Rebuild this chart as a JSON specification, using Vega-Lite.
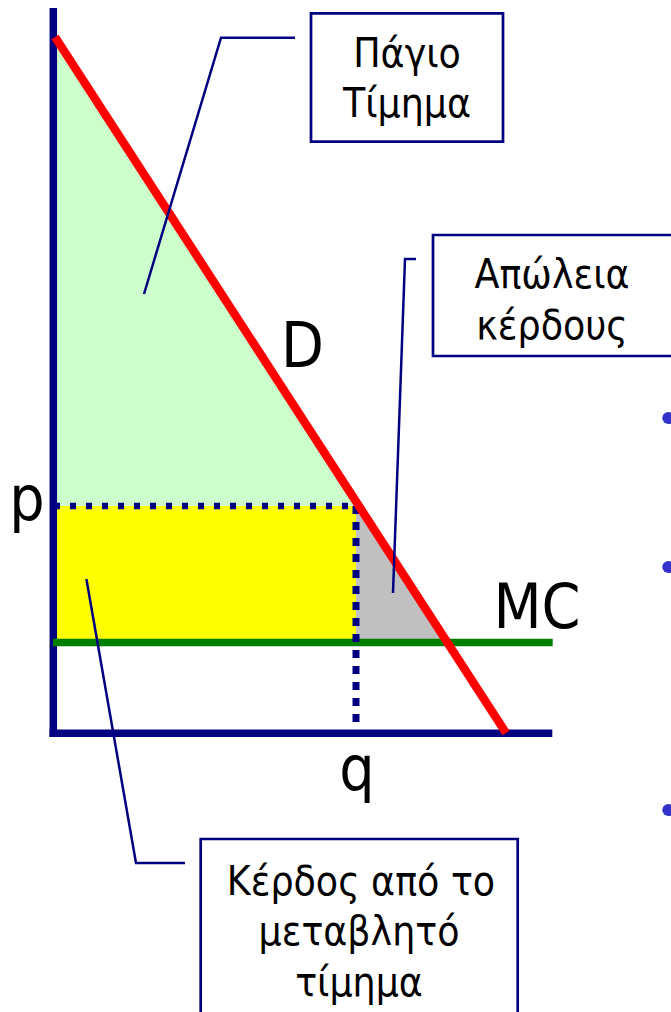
{
  "$schema": "https://vega.github.io/schema/vega-lite/v6.json",
  "width": 671,
  "height": 1012,
  "autosize": {"type": "none"},
  "padding": 0,
  "background": "white",
  "config": {
    "view": {"stroke": null},
    "text": {"font": "DejaVu Sans Condensed, Liberation Sans, sans-serif"}
  },
  "datasets": {
    "regions": [
      {"region": "fixed fee", "q": 53, "top": 978, "bottom": 506},
      {"region": "fixed fee", "q": 358, "top": 507.4, "bottom": 506},
      {"region": "variable profit", "q": 53, "top": 506, "bottom": 369.5},
      {"region": "variable profit", "q": 356, "top": 506, "bottom": 369.5},
      {"region": "lost profit", "q": 356, "top": 508, "bottom": 369.5},
      {"region": "lost profit", "q": 447, "top": 370, "bottom": 369.5}
    ],
    "axes": [
      {"x": 53.3, "x2": 53.3, "y": 1004, "y2": 275},
      {"x": 49.5, "x2": 552.3, "y": 278.7, "y2": 278.7}
    ],
    "mc": [{"x": 53, "x2": 552.7, "y": 369.5, "y2": 369.5}],
    "pline": [{"x": 54, "x2": 357, "y": 506, "y2": 506}],
    "qline": [{"x": 356, "x2": 356, "y": 506, "y2": 290}],
    "demand": [{"q": 55, "p": 975}, {"q": 506, "p": 279}],
    "callouts": [
      {"id": "a", "k": 1, "x": 295, "y": 974.3},
      {"id": "a", "k": 2, "x": 221, "y": 974.3},
      {"id": "a", "k": 3, "x": 144, "y": 718},
      {"id": "b", "k": 1, "x": 416, "y": 753},
      {"id": "b", "k": 2, "x": 405, "y": 753},
      {"id": "b", "k": 3, "x": 393, "y": 419},
      {"id": "c", "k": 1, "x": 86.4, "y": 433},
      {"id": "c", "k": 2, "x": 136, "y": 149},
      {"id": "c", "k": 3, "x": 185, "y": 149}
    ],
    "boxes": [
      {"x": 311, "x2": 503, "y": 998.7, "y2": 870.3},
      {"x": 433, "x2": 674, "y": 777, "y2": 656},
      {"x": 200.7, "x2": 517.7, "y": 173, "y2": -20}
    ],
    "boxtext": [
      {"label": "Πάγιο", "x": 407, "y": 945.3},
      {"label": "Τίμημα", "x": 407, "y": 895},
      {"label": "Απώλεια", "x": 552, "y": 724},
      {"label": "κέρδους", "x": 552, "y": 673},
      {"label": "Κέρδος από το", "x": 361, "y": 117},
      {"label": "μεταβλητό", "x": 359, "y": 67},
      {"label": "τίμημα", "x": 359, "y": 16}
    ],
    "letters": [
      {"label": "D", "x": 302.5, "y": 645},
      {"label": "MC", "x": 537, "y": 384},
      {"label": "p", "x": 27, "y": 492},
      {"label": "q", "x": 357, "y": 222}
    ],
    "bullets": [
      {"x": 668.4, "y": 594},
      {"x": 668.4, "y": 445},
      {"x": 668.4, "y": 202}
    ]
  },
  "layer": [
    {
      "data": {"name": "regions"},
      "mark": {"type": "area", "opacity": 1},
      "encoding": {
        "x": {"field": "q", "type": "quantitative", "scale": {"domain": [0, 671], "nice": false, "zero": false}, "axis": null},
        "y": {"field": "top", "type": "quantitative", "scale": {"domain": [0, 1012], "nice": false, "zero": false}, "axis": null},
        "y2": {"field": "bottom"},
        "color": {"field": "region", "type": "nominal", "scale": {"domain": ["fixed fee", "variable profit", "lost profit"], "range": ["#CCFFCC", "#FFFF00", "#C0C0C0"]}, "legend": null}
      }
    },
    {
      "data": {"name": "axes"},
      "mark": {"type": "rule", "color": "#000080", "strokeWidth": 7.5},
      "encoding": {
        "x": {"field": "x", "type": "quantitative", "scale": {"domain": [0, 671], "nice": false, "zero": false}, "axis": null},
        "x2": {"field": "x2"},
        "y": {"field": "y", "type": "quantitative", "scale": {"domain": [0, 1012], "nice": false, "zero": false}, "axis": null},
        "y2": {"field": "y2"}
      }
    },
    {
      "data": {"name": "mc"},
      "mark": {"type": "rule", "color": "#008000", "strokeWidth": 7.5},
      "encoding": {
        "x": {"field": "x", "type": "quantitative", "scale": {"domain": [0, 671], "nice": false, "zero": false}, "axis": null},
        "x2": {"field": "x2"},
        "y": {"field": "y", "type": "quantitative", "scale": {"domain": [0, 1012], "nice": false, "zero": false}, "axis": null},
        "y2": {"field": "y2"}
      }
    },
    {
      "data": {"name": "pline"},
      "mark": {"type": "rule", "color": "#000080", "strokeWidth": 6.5, "strokeDash": [6, 10]},
      "encoding": {
        "x": {"field": "x", "type": "quantitative", "scale": {"domain": [0, 671], "nice": false, "zero": false}, "axis": null},
        "x2": {"field": "x2"},
        "y": {"field": "y", "type": "quantitative", "scale": {"domain": [0, 1012], "nice": false, "zero": false}, "axis": null},
        "y2": {"field": "y2"}
      }
    },
    {
      "data": {"name": "qline"},
      "mark": {"type": "rule", "color": "#000080", "strokeWidth": 7, "strokeDash": [8, 8]},
      "encoding": {
        "x": {"field": "x", "type": "quantitative", "scale": {"domain": [0, 671], "nice": false, "zero": false}, "axis": null},
        "x2": {"field": "x2"},
        "y": {"field": "y", "type": "quantitative", "scale": {"domain": [0, 1012], "nice": false, "zero": false}, "axis": null},
        "y2": {"field": "y2"}
      }
    },
    {
      "data": {"name": "demand"},
      "mark": {"type": "line", "color": "#FF0000", "strokeWidth": 8.5, "strokeCap": "butt"},
      "encoding": {
        "x": {"field": "q", "type": "quantitative", "scale": {"domain": [0, 671], "nice": false, "zero": false}, "axis": null},
        "y": {"field": "p", "type": "quantitative", "scale": {"domain": [0, 1012], "nice": false, "zero": false}, "axis": null}
      }
    },
    {
      "data": {"name": "callouts"},
      "mark": {"type": "line", "color": "#000080", "strokeWidth": 2.5},
      "encoding": {
        "x": {"field": "x", "type": "quantitative", "scale": {"domain": [0, 671], "nice": false, "zero": false}, "axis": null},
        "y": {"field": "y", "type": "quantitative", "scale": {"domain": [0, 1012], "nice": false, "zero": false}, "axis": null},
        "detail": {"field": "id", "type": "nominal"},
        "order": {"field": "k", "type": "quantitative"}
      }
    },
    {
      "data": {"name": "boxes"},
      "mark": {"type": "rect", "fill": "white", "fillOpacity": 0, "stroke": "#000080", "strokeWidth": 2.7},
      "encoding": {
        "x": {"field": "x", "type": "quantitative", "scale": {"domain": [0, 671], "nice": false, "zero": false}, "axis": null},
        "x2": {"field": "x2"},
        "y": {"field": "y", "type": "quantitative", "scale": {"domain": [0, 1012], "nice": false, "zero": false}, "axis": null},
        "y2": {"field": "y2"}
      }
    },
    {
      "data": {"name": "boxtext"},
      "mark": {"type": "text", "fontSize": 40.5, "align": "center", "baseline": "alphabetic", "color": "black"},
      "encoding": {
        "x": {"field": "x", "type": "quantitative", "scale": {"domain": [0, 671], "nice": false, "zero": false}, "axis": null},
        "y": {"field": "y", "type": "quantitative", "scale": {"domain": [0, 1012], "nice": false, "zero": false}, "axis": null},
        "text": {"field": "label"}
      }
    },
    {
      "data": {"name": "letters"},
      "mark": {"type": "text", "fontSize": 62, "align": "center", "baseline": "alphabetic", "color": "black"},
      "encoding": {
        "x": {"field": "x", "type": "quantitative", "scale": {"domain": [0, 671], "nice": false, "zero": false}, "axis": null},
        "y": {"field": "y", "type": "quantitative", "scale": {"domain": [0, 1012], "nice": false, "zero": false}, "axis": null},
        "text": {"field": "label"}
      }
    },
    {
      "data": {"name": "bullets"},
      "mark": {"type": "circle", "color": "#3333CC", "size": 150, "opacity": 1},
      "encoding": {
        "x": {"field": "x", "type": "quantitative", "scale": {"domain": [0, 671], "nice": false, "zero": false}, "axis": null},
        "y": {"field": "y", "type": "quantitative", "scale": {"domain": [0, 1012], "nice": false, "zero": false}, "axis": null}
      }
    }
  ]
}
